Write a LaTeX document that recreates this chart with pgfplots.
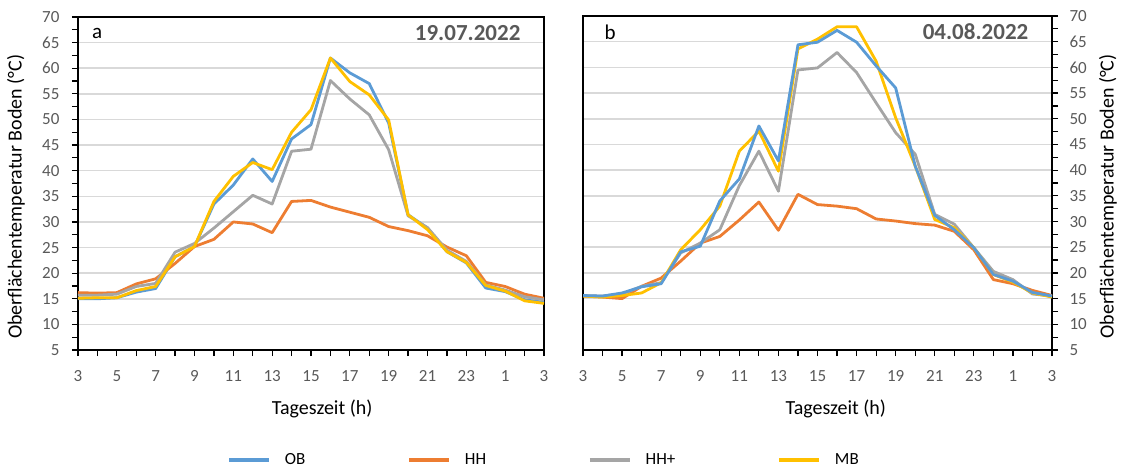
\documentclass[border=0pt]{standalone}
\usepackage{fontspec}
\setmainfont{Carlito}
\usepackage{pgfplots}
\usepackage{pgfplotstable}
\pgfplotsset{compat=1.18}
\definecolor{cOB}{HTML}{5B9BD5}
\definecolor{cHH}{HTML}{ED7D31}
\definecolor{cHHp}{HTML}{A5A5A5}
\definecolor{cMB}{HTML}{FFC000}
\definecolor{tickgray}{HTML}{595959}
\definecolor{gridgray}{HTML}{D9D9D9}

\pgfplotstableread{
h OB HH HHp MB
0 15.0 16.2 15.7 15.1
1 15.0 16.1 15.7 15.2
2 15.2 16.2 15.9 15.2
3 16.3 17.9 17.4 16.6
4 17.0 18.9 18.0 17.4
5 23.2 21.9 24.1 23.2
6 25.2 25.2 25.8 25.2
7 33.5 26.6 28.8 34.0
8 37.2 30.0 32.0 38.9
9 42.3 29.6 35.2 41.6
10 37.9 27.9 33.5 40.2
11 46.2 34.0 43.8 47.5
12 49.0 34.2 44.2 51.9
13 62.0 32.9 57.6 62.0
14 59.1 31.9 54.0 57.4
15 57.0 30.9 50.9 54.8
16 49.3 29.1 44.1 49.9
17 31.4 28.3 31.2 31.4
18 28.8 27.3 28.9 28.5
19 24.2 25.1 24.5 24.2
20 22.0 23.4 22.3 22.1
21 17.1 18.2 17.7 17.6
22 16.4 17.4 16.7 16.5
23 14.8 15.9 15.4 14.6
24 14.3 15.1 14.8 14.1
}\dataA

\pgfplotstableread{
h OB HH HHp MB
0 15.6 15.5 15.6 15.5
1 15.5 15.3 15.5 15.3
2 16.1 15.0 15.9 15.6
3 17.3 17.4 17.4 16.1
4 17.9 19.0 18.1 18.1
5 24.1 22.3 23.9 24.5
6 25.2 25.8 25.8 28.4
7 34.0 27.1 28.4 33.0
8 38.3 30.3 37.0 43.7
9 48.6 33.8 43.7 47.6
10 41.8 28.3 35.9 39.8
11 64.4 35.3 59.5 63.6
12 64.9 33.3 59.9 65.5
13 67.2 33.0 62.9 67.9
14 64.9 32.5 59.0 67.9
15 60.3 30.5 53.1 61.2
16 56.0 30.1 47.3 50.2
17 40.8 29.6 43.1 40.8
18 31.2 29.3 31.4 30.4
19 28.4 28.1 29.5 28.8
20 24.9 24.5 24.9 24.9
21 19.7 18.7 20.3 19.7
22 18.4 17.9 18.7 18.2
23 16.2 16.6 15.9 16.1
24 15.5 15.6 15.5 15.3
}\dataB

\pgfplotsset{
 myaxis/.style={
  scale only axis,
  xmin=0, xmax=24, ymin=5, ymax=70,
  xtick={0,2,...,24},
  xticklabels={3,5,7,9,11,13,15,17,19,21,23,1,3},
  minor xtick={1,3,...,23},
  ytick={5,10,...,70},
  minor ytick={7.5,12.5,...,67.5},
  ymajorgrids,
  major grid style={gridgray, line width=1.5pt},
  tick align=outside,
  major tick length=6pt, minor tick length=6pt,
  tick style={black, line width=1.2pt},
  axis line style={black, line width=1.5pt},
  xtick pos=bottom,
  tick label style={font=\fontsize{17}{20}\selectfont, text=tickgray},
  xticklabel style={yshift=-11pt},
  /pgf/number format/assume math mode=true,
  label style={font=\fontsize{20}{24}\selectfont},
  every axis plot/.append style={line width=2.8pt, mark=none, line join=round},
 }
}

\begin{document}
\begin{tikzpicture}
\useasboundingbox (0pt,0pt) rectangle (1122pt,-469pt);

\begin{axis}[myaxis,
  at={(78pt,-350pt)}, anchor=south west,
  width=466pt, height=333pt,
  ytick pos=left,
  yticklabel style={xshift=-9pt},
  xlabel={Tageszeit (h)},
  ylabel={Oberflächentemperatur Boden (°C)},
  xlabel style={at={(axis description cs:0.524,-0.177)}, anchor=center},
  ylabel style={at={(axis description cs:-0.133,0.46)}, anchor=center, rotate=0},
  legend columns=4,
  legend style={at={(axis description cs:1.0,-0.331)}, anchor=center, draw=none,
    font=\fontsize{17}{20}\selectfont,
    /tikz/every odd column/.append style={column sep=12pt},
    /tikz/every even column/.append style={column sep=100pt}},
  legend image code/.code={\draw[#1, line width=3.6pt] (0pt,0pt) -- (40pt,0pt);},
]
\addplot[cOB] table[x=h,y=OB] {\dataA};
\addlegendentry{OB}
\addplot[cHH] table[x=h,y=HH] {\dataA};
\addlegendentry{HH}
\addplot[cHHp] table[x=h,y=HHp] {\dataA};
\addlegendentry{HH+}
\addplot[cMB] table[x=h,y=MB] {\dataA};
\addlegendentry{MB}
\node[font=\fontsize{21}{24}\selectfont] at (axis description cs:0.041,0.952) {a};
\node[font=\fontsize{23}{25}\selectfont\bfseries, text=tickgray, anchor=east] at (axis description cs:0.957,0.952) {19.07.2022};
\end{axis}

\begin{axis}[myaxis,
  at={(583pt,-350pt)}, anchor=south west,
  width=469pt, height=334pt,
  ytick pos=right,
  yticklabel style={xshift=8pt},
  xlabel={Tageszeit (h)},
  ylabel={Oberflächentemperatur Boden (°C)},
  xlabel style={at={(axis description cs:0.539,-0.177)}, anchor=center},
  ylabel style={at={(axis description cs:1.119,0.46)}, anchor=center, rotate=0},
]
\addplot[cHH] table[x=h,y=HH] {\dataB};
\addplot[cHHp] table[x=h,y=HHp] {\dataB};
\addplot[cMB] table[x=h,y=MB] {\dataB};
\addplot[cOB] table[x=h,y=OB] {\dataB};
\node[font=\fontsize{21}{24}\selectfont] at (axis description cs:0.058,0.952) {b};
\node[font=\fontsize{23}{25}\selectfont\bfseries, text=tickgray, anchor=east] at (axis description cs:0.957,0.952) {04.08.2022};
\end{axis}
\end{tikzpicture}
\end{document}
